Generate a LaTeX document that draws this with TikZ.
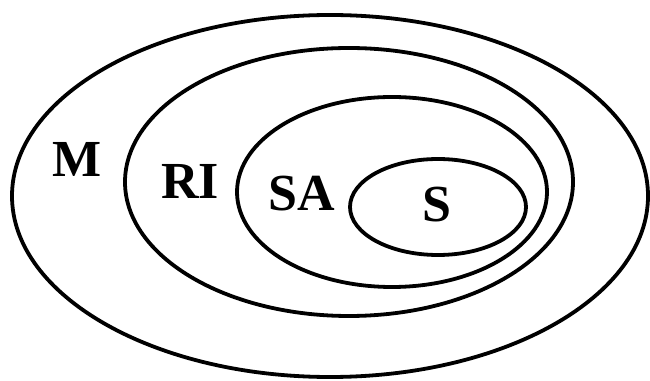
\documentclass[tikz,border=0pt]{standalone}
\usepackage{fontspec}
\setmainfont{Liberation Serif}
\usetikzlibrary{positioning}

\begin{document}
\begin{tikzpicture}[x=1pt, y=1pt, font=\fontsize{52}{56}\selectfont\bfseries,
	set/.style={line width=3.8pt}]
	\useasboundingbox (0,0) rectangle (650,380);
	\draw[set] (330,184) ellipse [x radius=318, y radius=181];
	\draw[set] (349,198) ellipse [x radius=224, y radius=134];
	\draw[set] (392,188) ellipse [x radius=155, y radius=95];
	\draw[set] (438,173) ellipse [x radius=88, y radius=48];
	\node (M) at (77,221) {M};
	\node (RI) at (190,199) {RI};
	\node (SA) at (302,186) {SA};
	\node (S) at (437,175) {S};
\end{tikzpicture}
\end{document}
